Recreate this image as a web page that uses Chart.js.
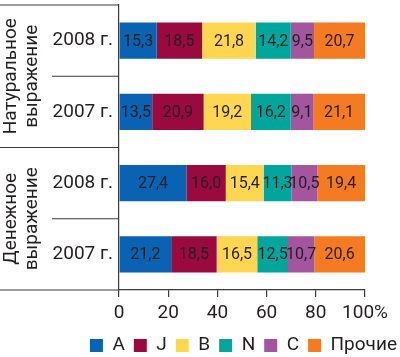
<!DOCTYPE html>
<html>
<head>
<meta charset="utf-8">
<script src="https://cdn.jsdelivr.net/npm/chart.js@4"></script>
<style>
html,body{margin:0;padding:0;background:#fff;}
#c{display:block;}
</style>
</head>
<body>
<canvas id="c" width="400" height="357"></canvas>
<script>
// ---- data ----
const groups = [['Натуральное', 'выражение'], ['Денежное', 'выражение']];
const years = ['2008 г.', '2007 г.', '2008 г.', '2007 г.'];
const seriesNames = ['A', 'J', 'B', 'N', 'C', 'Прочие'];
const valuesA = [15.3, 13.5, 27.4, 21.2];
const valuesJ = [18.5, 20.9, 16.0, 18.5];
const valuesB = [21.8, 19.2, 15.4, 16.5];
const valuesN = [14.2, 16.2, 11.3, 12.5];
const valuesC = [9.5, 9.1, 10.5, 10.7];
const valuesOther = [20.7, 21.1, 19.4, 20.6];
const xTicks = [0, 20, 40, 60, 80, 100];

const seriesValues = [valuesA, valuesJ, valuesB, valuesN, valuesC, valuesOther];
const colors = ['#0a62b3', '#9a0a3f', '#ffd652', '#00a69b', '#a3559f', '#f47b21'];
const TXT = '#231f20';
const LINE = '#3a3a3a';
const FONT = 'Roboto';

const fmt = v => v.toFixed(1).replace('.', ',');

const labelsPlugin = {
  id: 'barLabels',
  afterDatasetsDraw(chart) {
    const ctx = chart.ctx;
    ctx.save();
    ctx.font = '16px ' + FONT;
    ctx.fillStyle = TXT;
    ctx.textAlign = 'center';
    ctx.textBaseline = 'middle';
    chart.data.datasets.forEach((ds, di) => {
      const meta = chart.getDatasetMeta(di);
      meta.data.forEach((el, i) => {
        const cx = (el.x + el.base) / 2;
        ctx.fillText(fmt(ds.data[i]), cx, el.y + 1);
      });
    });
    ctx.restore();
  }
};

const framePlugin = {
  id: 'frame',
  afterDraw(chart) {
    const ctx = chart.ctx;
    const y = chart.scales.y;
    const area = chart.chartArea;
    const L = area.left;
    ctx.save();
    ctx.strokeStyle = LINE;
    ctx.lineWidth = 1.2;
    const p = i => y.getPixelForValue(i);
    const line = (x1, y1, x2, y2) => { ctx.beginPath(); ctx.moveTo(x1, y1); ctx.lineTo(x2, y2); ctx.stroke(); };
    line(0, area.top, L, area.top);
    line(52, (p(0) + p(1)) / 2, L, (p(0) + p(1)) / 2);
    line(0, (p(1) + p(2)) / 2, L, (p(1) + p(2)) / 2);
    line(52, (p(2) + p(3)) / 2, L, (p(2) + p(3)) / 2);
    line(0, area.bottom, L, area.bottom);
    // group titles
    ctx.fillStyle = TXT;
    ctx.font = '19px ' + FONT;
    ctx.textAlign = 'center';
    ctx.textBaseline = 'middle';
    const centers = [(area.top + (p(1) + p(2)) / 2) / 2, ((p(1) + p(2)) / 2 + area.bottom) / 2];
    groups.forEach((g, gi) => {
      ctx.save();
      ctx.translate(21, centers[gi]);
      ctx.rotate(-Math.PI / 2);
      ctx.fillText(g[0], 0, -10);
      ctx.fillText(g[1], 0, 11);
      ctx.restore();
    });
    ctx.restore();
  }
};

new Chart(document.getElementById('c'), {
  type: 'bar',
  data: {
    labels: years,
    datasets: seriesNames.map((n, i) => ({
      label: n,
      data: seriesValues[i],
      backgroundColor: colors[i],
      borderWidth: 0,
      barPercentage: 1,
      categoryPercentage: 0.51
    }))
  },
  options: {
    indexAxis: 'y',
    responsive: false,
    animation: false,
    devicePixelRatio: 1,
    layout: { padding: { top: 5, right: -6, left: 0, bottom: -8 } },
    plugins: {
      tooltip: { enabled: false },
      legend: {
        position: 'bottom',
        align: 'end',
        labels: {
          boxWidth: 13, boxHeight: 13, padding: 9,
          color: TXT,
          font: { family: FONT, size: 19 }
        }
      }
    },
    scales: {
      x: {
        stacked: true,
        min: 0, max: 100,
        afterBuildTicks: s => { s.ticks = xTicks.map(v => ({ value: v })); },
        afterFit: s => { s.paddingRight = 35; s.height = 37; },
        ticks: {
          color: TXT,
          font: { family: FONT, size: 19 },
          padding: 5,
          maxRotation: 0,
          callback: v => v === 100 ? '100%' : String(v)
        },
        grid: { drawOnChartArea: false, drawTicks: true, tickLength: 7, color: LINE, lineWidth: 1.2 },
        border: { display: true, color: LINE, width: 1.2 }
      },
      y: {
        stacked: true,
        afterFit: s => { s.width = 119; s.paddingTop = 0; s.paddingBottom = 0; },
        ticks: {
          color: TXT,
          font: { family: FONT, size: 19 },
          padding: 6
        },
        grid: { display: false, drawTicks: false },
        border: { display: true, color: LINE, width: 1.2 }
      }
    }
  },
  plugins: [labelsPlugin, framePlugin]
});
</script>
</body>
</html>
